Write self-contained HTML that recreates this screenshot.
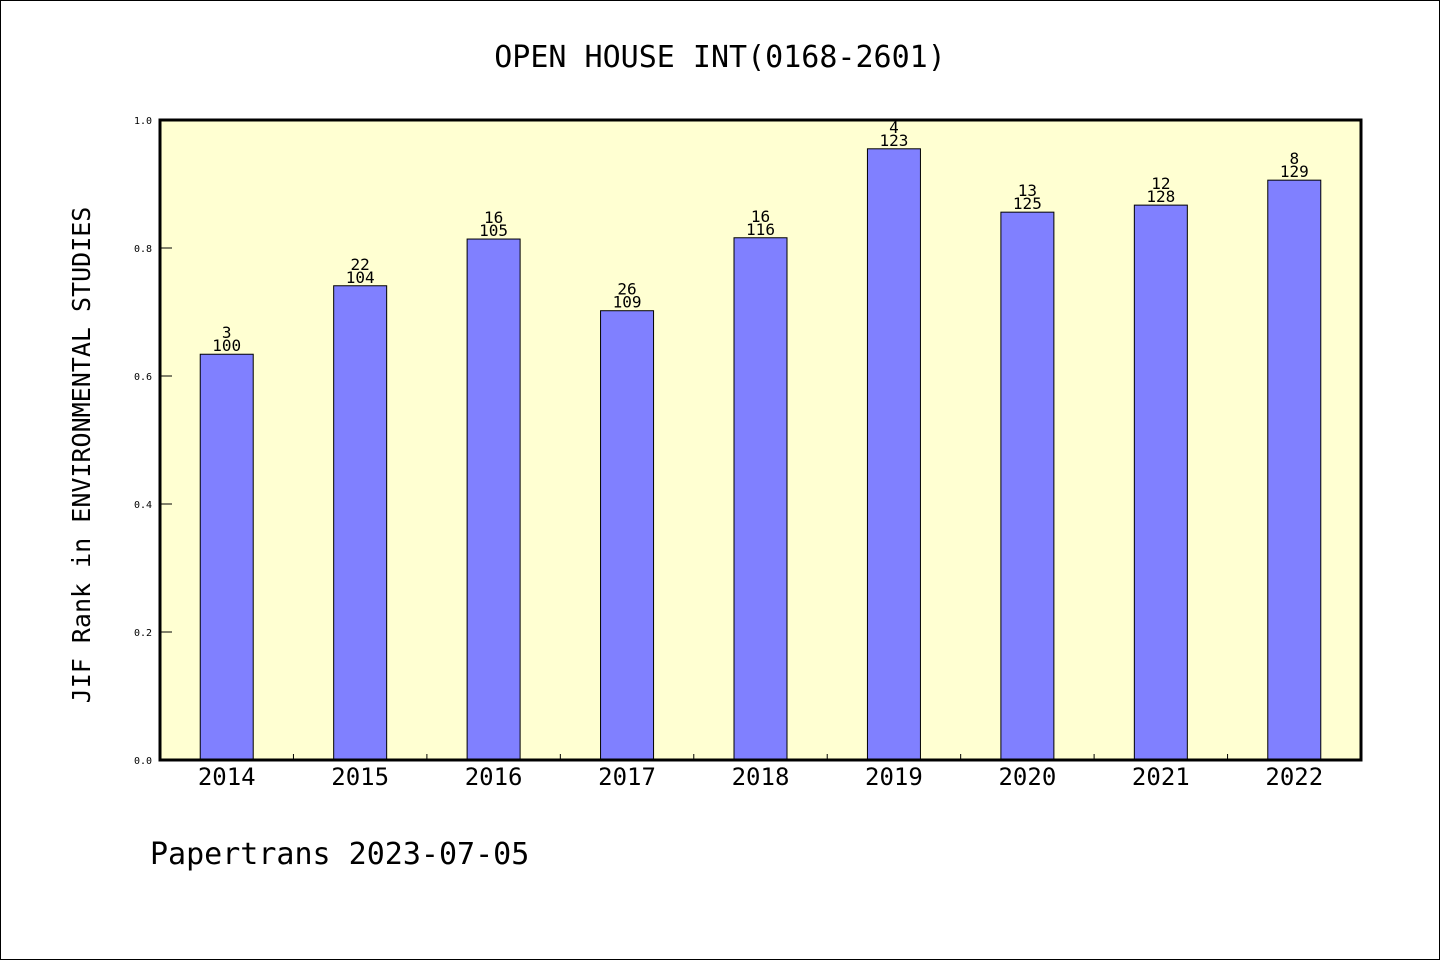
<!DOCTYPE html>
<html><head><meta charset="utf-8"><style>
html,body{margin:0;padding:0;background:#fff}
svg{display:block}
text{font-family:"DejaVu Sans Mono","Liberation Mono",monospace}
</style></head><body>
<svg id="c" width="1440" height="960" xmlns="http://www.w3.org/2000/svg">
<rect x="0.5" y="0.5" width="1439" height="959" fill="#fff" stroke="#000"/>
<text x="720" y="67" text-anchor="middle" font-size="30">OPEN HOUSE INT(0168-2601)</text>
<rect x="160" y="120" width="1201" height="640" fill="#ffffd2"/>
<g id="bars"></g>
<g id="axes"></g>
<rect x="160" y="120" width="1201" height="640" fill="none" stroke="#000" stroke-width="3"/>
<text transform="translate(90,455) rotate(-90)" text-anchor="middle" font-size="25">JIF Rank in ENVIRONMENTAL STUDIES</text>
<text x="150" y="864" font-size="30">Papertrans 2023-07-05</text>
</svg>
<script>
const categories=["2014","2015","2016","2017","2018","2019","2020","2021","2022"];
const values=[0.634,0.741,0.814,0.702,0.816,0.955,0.856,0.867,0.906];
const ranks=["3","22","16","26","16","4","13","12","8"];
const totals=["100","104","105","109","116","123","125","128","129"];
const yTicks=[0,0.2,0.4,0.6,0.8,1.0];
const NS="http://www.w3.org/2000/svg";
const X0=160,X1=1361,Y0=760,Y1=120;
const band=(X1-X0)/categories.length;
const y=v=>Y0-(v)*(Y0-Y1);
const xc=i=>X0+band*(i+0.5);
function mk(t,a,p){const e=document.createElementNS(NS,t);for(const k in a)e.setAttribute(k,a[k]);p.appendChild(e);return e;}
const bars=document.getElementById('bars'),axes=document.getElementById('axes');
categories.forEach((c,i)=>{
  const bw=53,top=y(values[i]);
  const r=mk('rect',{x:xc(i)-bw/2,y:top,width:bw,height:Y0-top,fill:'#8080ff',stroke:'#000','stroke-width':1},bars);
  
  
  const t1=mk('text',{x:xc(i),y:top-16,'text-anchor':'middle','font-size':16},bars);t1.textContent=ranks[i];
  
  
  const t2=mk('text',{x:xc(i),y:top-3,'text-anchor':'middle','font-size':16},bars);t2.textContent=totals[i];
  
  
  const xl=mk('text',{x:xc(i),y:785,'text-anchor':'middle','font-size':24},axes);xl.textContent=c;
  
  
  if(i>0){const tk=mk('line',{x1:X0+band*i,x2:X0+band*i,y1:Y0,y2:Y0-6,stroke:'#000'},axes);
  
  }
});
yTicks.forEach(v=>{
  const tk=mk('line',{x1:X0,x2:X0+12,y1:y(v),y2:y(v),stroke:'#000'},axes);
  
  
  const tl=mk('text',{x:152,y:y(v)+4,'text-anchor':'end','font-size':10,'font-family':'Liberation Sans, sans-serif'},axes);tl.textContent=v.toFixed(1);
  
  
});
</script>
</body></html>
